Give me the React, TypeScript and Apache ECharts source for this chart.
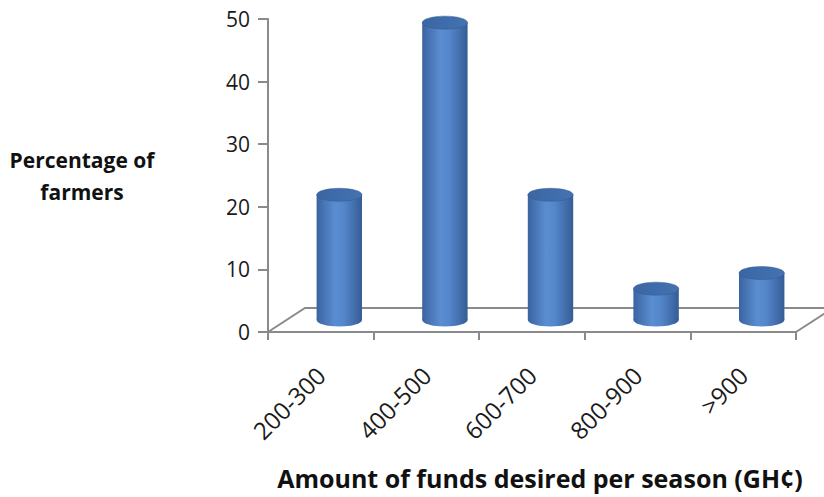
import React, { useEffect, useRef } from "react";
import * as echarts from "echarts";

const categories = ["200-300", "400-500", "600-700", "800-900", ">900"];
const percentages = [20, 47.5, 20, 5, 7.5];
const yTicks = { min: 0, max: 50, interval: 10 };
const xTitle = "Amount of funds desired per season (GH¢)";
const yTitle = "Percentage of\nfarmers";

const DEPTH_X = 37;
const DEPTH_Y = -24;
const FONT = "'Open Sans', Lato, sans-serif";
const AXIS_COLOR = "#8a8a8a";

export default function App() {
  const ref = useRef<HTMLDivElement>(null);
  useEffect(() => {
    if (!ref.current) return;
    const chart = echarts.init(ref.current, null, { renderer: "svg" });
    const bodyGradient = new echarts.graphic.LinearGradient(0, 0, 1, 0, [
      { offset: 0, color: "#3a64a0" },
      { offset: 0.4, color: "#5a8dd1" },
      { offset: 0.6, color: "#5486ca" },
      { offset: 1, color: "#355d96" },
    ]);
    const topGradient = new echarts.graphic.LinearGradient(0, 0, 1, 0, [
      { offset: 0, color: "#3a66a3" },
      { offset: 1, color: "#4473b2" },
    ]);
    chart.setOption({
      animation: false,
      grid: { left: 268, right: 28, top: 19, bottom: 165, containLabel: false },
      xAxis: {
        type: "category",
        data: categories,
        axisLine: { show: true, lineStyle: { color: AXIS_COLOR, width: 2 } },
        axisTick: { show: true, length: 8, lineStyle: { color: AXIS_COLOR, width: 2 } },
        axisLabel: {
          rotate: 45,
          fontSize: 24,
          fontFamily: FONT,
          color: "#1a1a1a",
          margin: 39,
          interval: 0,
        },
        splitLine: { show: false },
      },
      yAxis: {
        type: "value",
        min: yTicks.min,
        max: yTicks.max,
        interval: yTicks.interval,
        axisLine: { show: true, lineStyle: { color: AXIS_COLOR, width: 2 } },
        axisTick: { show: true, length: 10, lineStyle: { color: AXIS_COLOR, width: 2 } },
        axisLabel: { fontSize: 21, fontFamily: FONT, color: "#1a1a1a", margin: 18 },
        splitLine: { show: false },
      },
      graphic: [
        {
          type: "text",
          x: 82,
          y: 176,
          style: {
            text: yTitle,
            fontSize: 21,
            fontWeight: "bold",
            fontFamily: FONT,
            fill: "#111",
            align: "center",
            verticalAlign: "middle",
            lineHeight: 32,
          },
        },
        {
          type: "text",
          x: 540,
          y: 478,
          style: {
            text: xTitle,
            fontSize: 25,
            fontWeight: "bold",
            fontFamily: FONT,
            fill: "#111",
            align: "center",
            verticalAlign: "middle",
          },
        },
      ],
      series: [
        {
          type: "custom",
          name: "floor",
          data: [0],
          z: 1,
          renderItem: (params: any, api: any) => {
            const bw = api.size([1, 0])[0];
            const first = api.coord([0, 0]);
            const last = api.coord([categories.length - 1, 0]);
            const fl = [first[0] - bw / 2, first[1]];
            const fr = [last[0] + bw / 2, last[1]];
            const bl = [fl[0] + DEPTH_X, fl[1] + DEPTH_Y];
            const br = [fr[0] + DEPTH_X, fr[1] + DEPTH_Y];
            return {
              type: "polyline",
              shape: { points: [fl, bl, br, fr] },
              style: { stroke: AXIS_COLOR, lineWidth: 2, fill: null },
              silent: true,
            };
          },
        },
        {
          type: "custom",
          name: "Percentage of farmers",
          data: percentages.map((v, i) => [i, v]),
          encode: { x: 0, y: 1 },
          z: 3,
          renderItem: (params: any, api: any) => {
            const idx = api.value(0);
            const val = api.value(1);
            const top = api.coord([idx, val]);
            const base = api.coord([idx, 0]);
            const bw = api.size([1, 0])[0];
            const w = bw * 0.43;
            const rx = w / 2;
            const ry = 6.5;
            const cx = top[0] + DEPTH_X / 2;
            const ty = top[1] + DEPTH_Y / 2;
            const by = base[1] + DEPTH_Y / 2;
            return {
              type: "group",
              children: [
                {
                  type: "ellipse",
                  shape: { cx, cy: by, rx, ry },
                  style: { fill: bodyGradient, stroke: null },
                },
                {
                  type: "rect",
                  shape: { x: cx - rx, y: ty, width: w, height: by - ty },
                  style: { fill: bodyGradient, stroke: null },
                },
                {
                  type: "ellipse",
                  shape: { cx, cy: ty, rx, ry },
                  style: { fill: topGradient, stroke: "#34598f", lineWidth: 0.5 },
                },
              ],
            };
          },
        },
      ],
    });
    return () => chart.dispose();
  }, []);
  return (
    <div
      ref={ref}
      style={{ position: "fixed", left: 0, top: 0, width: 824, height: 497, background: "#fff" }}
    />
  );
}
